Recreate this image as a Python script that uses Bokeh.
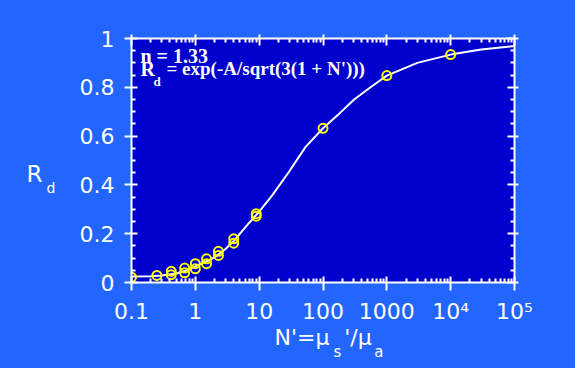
from bokeh.plotting import figure
from bokeh.models import (FixedTicker, LogAxis, LinearAxis, Label,
                          CustomJSTickFormatter)
from bokeh.embed import file_html
from bokeh.resources import INLINE

# ---- data ----
curve_x = [0.1, 0.2, 0.3, 0.5, 0.7, 1, 1.5, 2, 3, 4, 5, 7, 10, 16, 29, 53,
           100, 167, 304, 555, 1000, 3000, 10000, 30000, 100000]
curve_y = [0.025, 0.026, 0.029, 0.037, 0.048, 0.066, 0.087, 0.103, 0.138,
           0.17, 0.20, 0.245, 0.29, 0.357, 0.452, 0.555, 0.632, 0.684,
           0.749, 0.80, 0.848, 0.90, 0.934, 0.955, 0.969]

pts_x = [0.1, 0.25, 0.42, 0.42, 0.68, 0.68, 1, 1, 1.5, 1.5, 2.3, 2.3,
         4, 4, 9, 9, 100, 1000, 10000]
pts_y = [0.022, 0.029, 0.046, 0.032, 0.059, 0.040, 0.077, 0.056, 0.097,
         0.077, 0.128, 0.111, 0.179, 0.161, 0.282, 0.272, 0.632, 0.848,
         0.934]

x_ticks = [0.1, 1, 10, 100, 1000, 10000, 100000]
x_tick_labels = ["0.1", "1", "10", "100", "1000", "10\u2074", "10\u2075"]
x_minor = [m * t for t in [0.1, 1, 10, 100, 1000, 10000] for m in range(2, 10)]
y_ticks = [0, 0.2, 0.4, 0.6, 0.8, 1]
y_tick_labels = ["0", "0.2", "0.4", "0.6", "0.8", "1"]
y_minor = [round(0.05 * i, 2) for i in range(21) if i % 4 != 0]

# axis titles, split into main text and subscripts
x_title_main = ["N'=\u03bc", "'/\u03bc"]
x_title_subs = ["s", "a"]
y_title_main = ["R"]
y_title_subs = ["d"]

OUTER = "#2266FF"
INNER = "#0000CC"
WHITE = "white"

p = figure(x_axis_type="log", x_range=(0.1, 1e5), y_range=(0, 1),
           frame_width=383, frame_height=244,
           min_border_left=131, min_border_right=61,
           min_border_top=38, min_border_bottom=86,
           output_backend="svg", toolbar_location=None)
p.background_fill_color = INNER
p.border_fill_color = OUTER
p.outline_line_color = None
p.grid.visible = False

fmt_code = """
let best = -1, bd = 1e9;
for (let i = 0; i < tv.length; i++) {
  const d = Math.abs(tv[i] - tick) / Math.max(Math.abs(tv[i]), 1e-9);
  if (d < bd) { bd = d; best = i; }
}
if (best >= 0 && (bd < 1e-6 || (tv[best] == 0 && Math.abs(tick) < 1e-9))) return tl[best];
return '';
"""


def fmt(tv, tl):
    return CustomJSTickFormatter(args=dict(tv=tv, tl=tl), code=fmt_code)


blank = CustomJSTickFormatter(code="return '';")


def style(ax, t_out, t_in, m_in, size="22px"):
    ax.axis_line_color = WHITE
    ax.axis_line_width = 2
    ax.major_tick_line_color = WHITE
    ax.major_tick_line_width = 2
    ax.minor_tick_line_color = WHITE
    ax.minor_tick_line_width = 2
    ax.major_tick_out = t_out
    ax.major_tick_in = t_in
    ax.minor_tick_out = 0
    ax.minor_tick_in = m_in
    ax.major_label_text_color = WHITE
    ax.major_label_text_font = "DejaVu Sans"
    ax.major_label_text_font_size = size


def text_axis(cls, ticks, labels, size, standoff):
    ax = cls(ticker=FixedTicker(ticks=ticks, minor_ticks=[]),
             formatter=fmt(ticks, labels))
    style(ax, 0, 0, 0, size)
    ax.axis_line_color = None
    ax.major_tick_line_color = None
    ax.minor_tick_line_color = None
    ax.major_label_standoff = standoff
    return ax


xb = p.xaxis[0]
xb.ticker = FixedTicker(ticks=x_ticks, minor_ticks=x_minor)
xb.formatter = fmt(x_ticks, x_tick_labels)
style(xb, 8, 6, 4)
xb.major_label_standoff = 8

yl = p.yaxis[0]
yl.ticker = FixedTicker(ticks=y_ticks, minor_ticks=y_minor)
yl.formatter = fmt(y_ticks, y_tick_labels)
style(yl, 7, 6, 4)
yl.major_label_standoff = 10

xt = LogAxis(ticker=FixedTicker(ticks=x_ticks, minor_ticks=x_minor), formatter=blank)
style(xt, 4, 7, 4, "1px")
xt.major_label_standoff = 0
p.add_layout(xt, "above")

yr = LinearAxis(ticker=FixedTicker(ticks=y_ticks, minor_ticks=y_minor), formatter=blank)
style(yr, 4, 7, 4, "1px")
yr.major_label_standoff = 0
p.add_layout(yr, "right")

# axis titles drawn as tick labels of line-less extra axes
p.add_layout(text_axis(LogAxis, [46.9, 353.6], x_title_main, "22px", -2), "below")
p.add_layout(text_axis(LogAxis, [168, 750], x_title_subs, "15px", -10), "below")
p.add_layout(text_axis(LinearAxis, [0.387], y_title_subs, "14px", 21), "left")
p.add_layout(text_axis(LinearAxis, [0.444], y_title_main, "23px", 1), "left")

# ---- marks ----
p.line(curve_x, curve_y, line_color=WHITE, line_width=2)
p.scatter(pts_x, pts_y, marker="circle", size=9, fill_color=None,
          line_color="#FFFF00", line_width=2)

# ---- annotation ----
def lab(text, x, y, xo, size):
    p.add_layout(Label(x=x, y=y, x_offset=xo, text=text,
                       text_color=WHITE, text_font="Liberation Serif",
                       text_font_size=size, text_font_style="bold",
                       text_baseline="alphabetic", text_align="left"))

lab("n = 1.33", 0.1, 0.93, 9, "20px")
lab("R", 0.1, 0.876, 9, "20px")
lab("d", 0.1, 0.822, 22, "13px")
lab("= exp(-A/sqrt(3(1 + N')))", 0.1, 0.876, 35, "19px")

html = file_html(p, INLINE)
html = html.replace("</head>", "<style>html, body { background: %s; }</style></head>" % OUTER, 1)
open("out.html", "w").write(html)
